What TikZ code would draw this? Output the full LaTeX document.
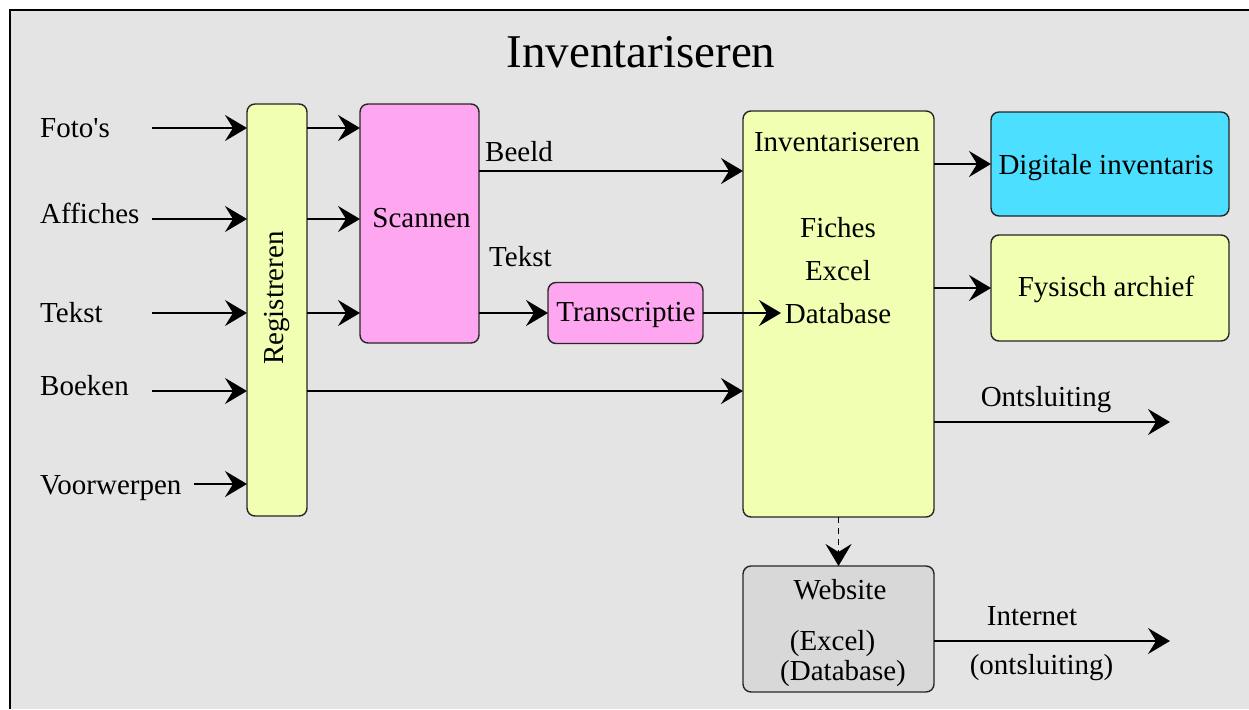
\documentclass[tikz,border=0pt]{standalone}
\usepackage{fontspec}
\setmainfont{Liberation Serif}
\usetikzlibrary{arrows.meta}
\definecolor{panel}{RGB}{228,228,228}
\definecolor{boxyellow}{RGB}{241,255,178}
\definecolor{boxpink}{RGB}{255,166,240}
\definecolor{boxcyan}{RGB}{77,223,255}
\definecolor{boxgray}{RGB}{216,216,216}
\begin{document}
\begin{tikzpicture}[x=1pt,y=-1pt,
  box/.style={draw=black!85, line width=1.4pt, rounded corners=8pt, inner sep=0pt, outer sep=0pt},
  lbl/.style={font=\fontsize{29}{35}\selectfont, inner sep=0pt, anchor=base},
  flow/.style={line width=1.9pt, -{Stealth[length=22pt,width=26pt,inset=8pt]}},
  dashflow/.style={flow, dash pattern=on 6pt off 5pt}]

% panel with its frame
\useasboundingbox (0,0) rectangle (1249,709);
\fill[white] (0,0) rectangle (1249,709);
\fill[panel] (10,10) rectangle (1249,709);
\draw[line width=2.5pt] (10,709) -- (10,10) -- (1249,10);

\node[lbl, font=\fontsize{47}{56}\selectfont] (title) at (641,67) {Inventariseren};

% boxes
\node[box, fill=boxyellow, minimum width=60pt, minimum height=412pt] (reg) at (277,310) {};
\node[box, fill=boxpink, minimum width=119pt, minimum height=239pt] (scan) at (419.5,223.5) {};
\node[box, fill=boxpink, minimum width=155pt, minimum height=61pt] (trans) at (625.5,313) {};
\node[box, fill=boxyellow, minimum width=191pt, minimum height=406pt] (inv) at (838.5,314) {};
\node[box, fill=boxcyan, minimum width=238pt, minimum height=104pt] (dig) at (1110,164) {};
\node[box, fill=boxyellow, minimum width=238pt, minimum height=106pt] (fys) at (1110,288) {};
\node[box, fill=boxgray, minimum width=191pt, minimum height=126pt] (web) at (838.5,629) {};

% box texts
\node[lbl, rotate=90] (regtxt) at (283,298) {Registreren};
\node[lbl] (scantxt) at (421.5,227) {Scannen};
\node[lbl] (transtxt) at (626,321) {Transcriptie};
\node[lbl] (invtxt) at (837,151) {Inventariseren};
\node[lbl] (fiches) at (838,237) {Fiches};
\node[lbl] (excel) at (838,280) {Excel};
\node[lbl] (dbase) at (838,323) {Database};
\node[lbl] (digtxt) at (1106,174) {Digitale inventaris};
\node[lbl] (fystxt) at (1106,296.5) {Fysisch archief};
\node[lbl] (webtxt) at (840,599) {Website};
\node[lbl] (webexcel) at (832.5,650) {(Excel)};
\node[lbl] (webdb) at (843,680.5) {(Database)};

% input labels
\node[lbl, anchor=base west] (foto) at (40,137) {Foto\textquotesingle s};
\node[lbl, anchor=base west] (affiche) at (40,223) {Affiches};
\node[lbl, anchor=base west] (tekst) at (40,322) {Tekst};
\node[lbl, anchor=base west] (boek) at (40,395) {Boeken};
\node[lbl, anchor=base west] (voorwerp) at (40,494) {Voorwerpen};

% flow labels
\node[lbl, anchor=base west] (beeld) at (485,161) {Beeld};
\node[lbl, anchor=base west] (tekstflow) at (489,266) {Tekst};
\node[lbl] (ontsl) at (1046,406.5) {Ontsluiting};
\node[lbl] (internet) at (1032,625.5) {Internet};
\node[lbl] (ontslnet) at (1041.5,674.5) {(ontsluiting)};

% connector end points
\coordinate (fotoIn) at (152,128);
\coordinate (afficheIn) at (152,219);
\coordinate (tekstIn) at (152,313);
\coordinate (boekIn) at (152,391);
\coordinate (voorwerpIn) at (194,484);
\coordinate (beeldRow) at (479,171);
\coordinate (dbTip) at (781,313);
\coordinate (ontTip) at (1170,422);
\coordinate (netTip) at (1170,641);

% inputs into registration
\draw[flow] (fotoIn) -- (fotoIn -| reg.west);
\draw[flow] (afficheIn) -- (afficheIn -| reg.west);
\draw[flow] (tekstIn) -- (tekstIn -| reg.west);
\draw[flow] (boekIn) -- (boekIn -| reg.west);
\draw[flow] (voorwerpIn) -- (voorwerpIn -| reg.west);

% registration to scanning and inventory
\draw[flow] (reg.east |- fotoIn) -- (scan.west |- fotoIn);
\draw[flow] (reg.east |- afficheIn) -- (scan.west |- afficheIn);
\draw[flow] (reg.east |- tekstIn) -- (scan.west |- tekstIn);
\draw[flow] (reg.east |- boekIn) -- (inv.west |- boekIn);

% scanning outputs
\draw[flow] (beeldRow) -- (beeldRow -| inv.west);
\draw[flow] (scan.east |- trans.west) -- (trans.west);
\draw[flow] (trans.east) -- (dbTip);

% inventory outputs
\draw[flow] (inv.east |- dig.west) -- (dig.west);
\draw[flow] (inv.east |- fys.west) -- (fys.west);
\draw[flow] (inv.east |- ontTip) -- (ontTip);
\draw[dashflow] (inv.south) -- (web.north);
\draw[flow] (web.east |- netTip) -- (netTip);
\end{tikzpicture}
\end{document}
